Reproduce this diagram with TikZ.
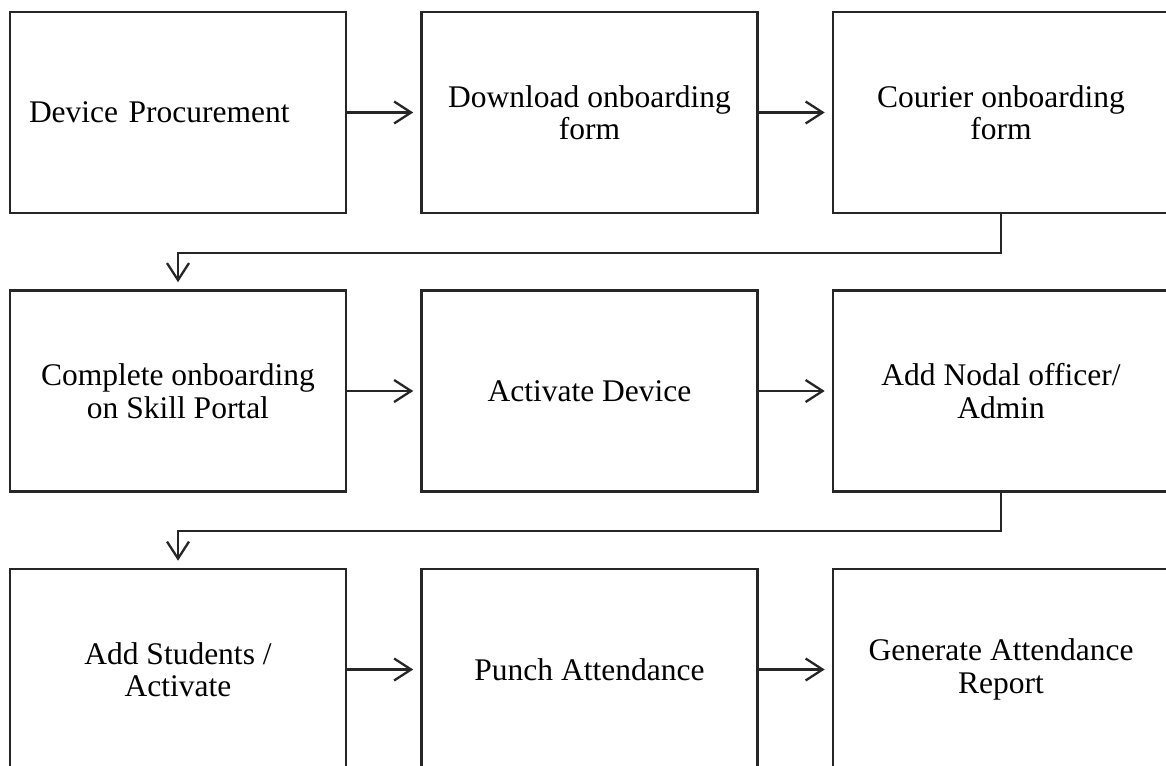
\documentclass[tikz,border=0pt]{standalone}
\usepackage{fontspec}
\setmainfont{Liberation Serif}
\usetikzlibrary{arrows.meta}
\tikzset{
  box/.style={draw=black!85, line width=2.6pt, minimum width=336pt, minimum height=201pt,
    inner sep=0pt, align=center, font=\fontsize{31.5}{32.5}\selectfont, text=black},
  arr/.style={draw=black!85, line width=2.3pt, -{Straight Barb[length=17pt,width=22pt,line width=2.3pt]}, shorten >=7pt},
}
\begin{document}
\begin{tikzpicture}[x=1pt,y=-1pt]
\useasboundingbox (0,0) rectangle (1166,765);
\clip (0,0) rectangle (1166,765);
\fill[white] (0,0) rectangle (1166,765);
% row 1
\node[box, minimum width=0pt, text width=298pt, inner xsep=19pt, align=left] (b1) at (178,112.5) {Device Procurement};
\node[box] (b2) at (589.5,112.5) {Download onboarding\\form};
\node[box] (b3) at (1001,112.5) {Courier onboarding\\form};
% row 2
\node[box] (b4) at (178,391) {Complete onboarding\\on Skill Portal};
\node[box] (b5) at (589.5,391) {Activate Device};
\node[box] (b6) at (1001,391) {Add Nodal officer/\\Admin};
% row 3
\node[box] (b7) at (178,669.5) {Add Students /\\Activate};
\node[box] (b8) at (589.5,669.5) {Punch Attendance};
\node[box] (b9) at (1001,669.5) {Generate Attendance\\Report};
% connectors
\draw[arr] (b1.east) -- (b2.west);
\draw[arr] (b2.east) -- (b3.west);
\draw[arr] (b3.south) -- ++(0,38.5) -| (b4.north);
\draw[arr] (b4.east) -- (b5.west);
\draw[arr] (b5.east) -- (b6.west);
\draw[arr] (b6.south) -- ++(0,38.5) -| (b7.north);
\draw[arr] (b7.east) -- (b8.west);
\draw[arr] (b8.east) -- (b9.west);
\end{tikzpicture}
\end{document}
